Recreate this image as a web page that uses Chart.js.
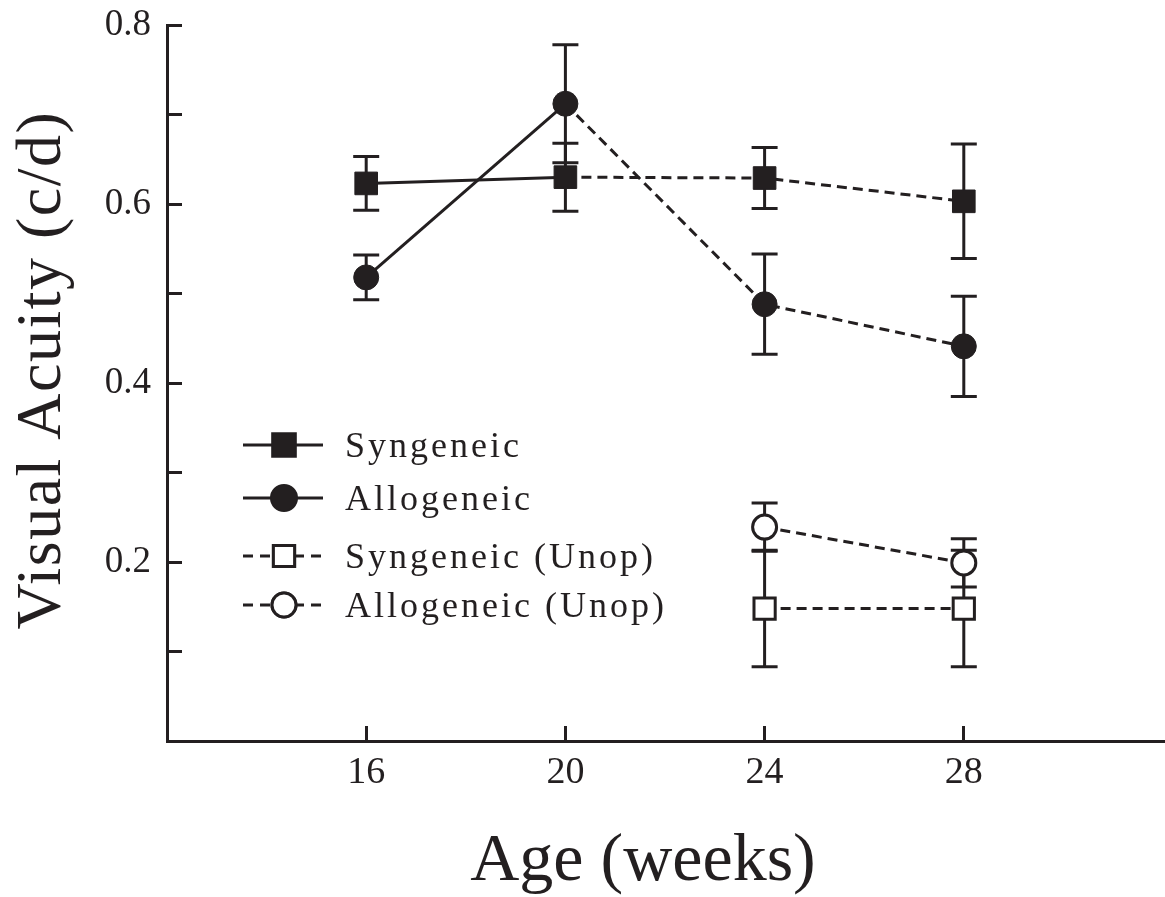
<!DOCTYPE html>
<html>
<head>
<meta charset="utf-8">
<script src="https://cdn.jsdelivr.net/npm/chart.js@4.4.1/dist/chart.umd.min.js"></script>
<style>
  html, body { margin: 0; padding: 0; background: #fff; overflow: hidden; }
  canvas { display: block; }
</style>
</head>
<body>
<canvas id="acuityChart" width="1165" height="897"></canvas>
<script>
// Values
const weeks = [16, 20, 24, 28];
const synMean = [0.623, 0.630, 0.629, 0.603];
const synErr = [0.030, 0.038, 0.034, 0.064];
const alloMean = [0.518, 0.712, 0.488, 0.441];
const alloErr = [0.025, 0.066, 0.056, 0.056];

const unopWeeks = [24, 28];
const synUnopMean = [0.148, 0.148];
const synUnopErr = [0.065, 0.065];
const alloUnopMean = [0.239, 0.199];
const alloUnopErr = [0.027, 0.027];

const xTicks = [16, 20, 24, 28];
const yTicks = [0.1, 0.2, 0.3, 0.4, 0.5, 0.6, 0.7, 0.8];
const yLabelTicks = [0.2, 0.4, 0.6, 0.8];

const seriesNames = ["Syngeneic", "Allogeneic", "Syngeneic (Unop)", "Allogeneic (Unop)"];

const INK = "#231f20";
const FONT = "'Liberation Serif', 'Times New Roman', serif";
const DASH = [10, 6];

function points(xs, ys) {
  return xs.map((x, i) => ({ x: x, y: ys[i] }));
}

// solid up to week 20, dashed after
const afterSurgery = { borderDash: (c) => (c.p0.parsed.x >= 20 ? DASH : undefined) };

const datasets = [
  {
    label: seriesNames[0],
    data: points(weeks, synMean),
    err: synErr,
    pointStyle: "rect",
    pointRadius: 16,
    backgroundColor: INK,
    segment: afterSurgery,
  },
  {
    label: seriesNames[1],
    data: points(weeks, alloMean),
    err: alloErr,
    pointStyle: "circle",
    pointRadius: 12.5,
    backgroundColor: INK,
    segment: afterSurgery,
  },
  {
    label: seriesNames[2],
    data: points(unopWeeks, synUnopMean),
    err: synUnopErr,
    pointStyle: "rect",
    pointRadius: 15,
    pointBorderWidth: 3,
    backgroundColor: "#fff",
    borderDash: DASH,
  },
  {
    label: seriesNames[3],
    data: points(unopWeeks, alloUnopMean),
    err: alloUnopErr,
    pointStyle: "circle",
    pointRadius: 12,
    pointBorderWidth: 3,
    backgroundColor: "#fff",
    borderDash: DASH,
  },
].map((d) => Object.assign({
  borderColor: INK,
  pointBorderColor: INK,
  pointBackgroundColor: d.backgroundColor,
  pointBorderWidth: 1,
  borderWidth: 3,
  fill: false,
  tension: 0,
}, d));

// error bars drawn behind the markers
const errorBars = {
  id: "errorBars",
  beforeDatasetsDraw(chart) {
    const { ctx, scales: { x, y } } = chart;
    ctx.save();
    ctx.strokeStyle = INK;
    ctx.lineWidth = 3;
    ctx.setLineDash([]);
    chart.data.datasets.forEach((ds) => {
      ds.data.forEach((p, i) => {
        const px = x.getPixelForValue(p.x);
        const top = y.getPixelForValue(p.y + ds.err[i]);
        const bot = y.getPixelForValue(p.y - ds.err[i]);
        ctx.beginPath();
        ctx.moveTo(px, top);
        ctx.lineTo(px, bot);
        ctx.moveTo(px - 13, top);
        ctx.lineTo(px + 13, top);
        ctx.moveTo(px - 13, bot);
        ctx.lineTo(px + 13, bot);
        ctx.stroke();
      });
    });
    ctx.restore();
  },
};

// axis titles and the legend box
const decor = {
  id: "decor",
  afterDraw(chart) {
    const ctx = chart.ctx;
    ctx.save();
    ctx.fillStyle = INK;

    ctx.font = "68px " + FONT;
    ctx.textAlign = "center";
    ctx.textBaseline = "alphabetic";
    ctx.fillText("Age (weeks)", 643, 880);

    ctx.save();
    ctx.translate(60, 370);
    ctx.rotate(-Math.PI / 2);
    ctx.font = "64px " + FONT;
    ctx.letterSpacing = "1.5px";
    ctx.fillText("Visual Acuity (c/d)", 0, 0);
    ctx.restore();

    const rows = [445, 498, 556, 605];
    chart.data.datasets.forEach((ds, i) => {
      const yy = rows[i];
      ctx.strokeStyle = INK;
      ctx.lineWidth = 3;
      ctx.setLineDash(i < 2 ? [] : [10, 7]);
      ctx.beginPath();
      ctx.moveTo(243, yy);
      ctx.lineTo(323, yy);
      ctx.stroke();
      ctx.setLineDash([]);
      Chart.helpers.drawPoint(ctx, {
        pointStyle: ds.pointStyle,
        radius: ds.pointRadius,
        borderWidth: ds.pointBorderWidth,
      }, 284, yy);
      ctx.fillStyle = ds.pointBackgroundColor;
      ctx.strokeStyle = INK;
      ctx.lineWidth = ds.pointBorderWidth;
      ctx.fill();
      ctx.stroke();

      ctx.fillStyle = INK;
      ctx.font = "36px " + FONT;
      ctx.letterSpacing = "3px";
      ctx.textAlign = "left";
      ctx.fillText(ds.label, 345, yy + 12);
      ctx.letterSpacing = "0px";
    });
    ctx.restore();
  },
};

function noPad(s) {
  s.paddingTop = 0;
  s.paddingBottom = 0;
  s.paddingLeft = 0;
  s.paddingRight = 0;
}

new Chart(document.getElementById("acuityChart"), {
  type: "line",
  data: { datasets: datasets },
  plugins: [errorBars, decor],
  options: {
    responsive: false,
    animation: false,
    events: [],
    layout: { autoPadding: false, padding: { top: 25, right: 2, left: 0, bottom: 0 } },
    plugins: {
      legend: { display: false },
      tooltip: { enabled: false },
    },
    scales: {
      x: {
        type: "linear",
        min: 12,
        max: 32,
        afterBuildTicks: (s) => { s.ticks = xTicks.map((v) => ({ value: v })); },
        afterFit: (s) => { s.height = 156; noPad(s); },
        grid: { drawOnChartArea: false, tickLength: -15, color: INK, lineWidth: 3 },
        border: { color: INK, width: 3 },
        ticks: {
          color: INK,
          padding: 24,
          font: { family: FONT, size: 38 },
          callback: (v) => String(v),
        },
      },
      y: {
        min: 0,
        max: 0.8,
        afterBuildTicks: (s) => { s.ticks = yTicks.map((v) => ({ value: v })); },
        afterFit: (s) => { s.width = 167; noPad(s); },
        grid: { drawOnChartArea: false, tickLength: -15, color: INK, lineWidth: 3 },
        border: { color: INK, width: 3 },
        ticks: {
          color: INK,
          padding: 31,
          font: { family: FONT, size: 37 },
          callback: (v) => (yLabelTicks.includes(+v.toFixed(1)) ? v.toFixed(1) : ""),
        },
      },
    },
  },
});
</script>
</body>
</html>
